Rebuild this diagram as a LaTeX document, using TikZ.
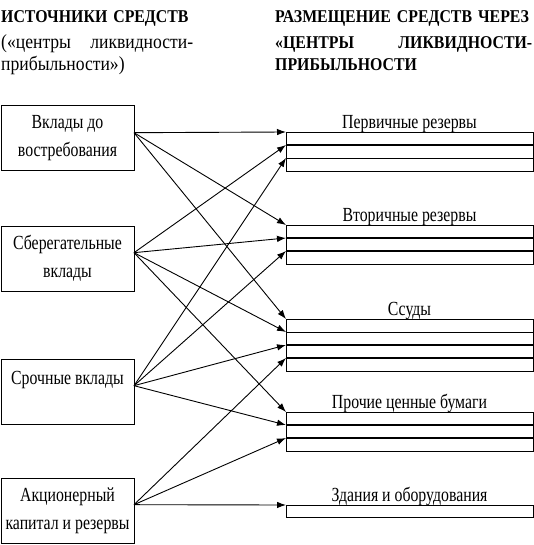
\documentclass[tikz,border=0pt]{standalone}
\usepackage{fontspec}
\setmainfont{Liberation Serif}
\newfontfamily\narrowfont[FakeStretch=0.79]{Liberation Serif}
\newfontfamily\headfont[FakeStretch=0.88]{Liberation Serif}
\usetikzlibrary{positioning, arrows.meta}
\tikzset{
  source/.style = {rectangle, draw, line width = 1pt, minimum width = 133pt, minimum height = 65pt,
                   inner sep = 0pt, outer sep = 0pt, align = center,
                   font = \narrowfont\fontsize{20}{28}\selectfont},
  stripe/.style = {rectangle, draw, line width = 0.8pt, minimum width = 247pt, minimum height = 13pt,
                   inner sep = 0pt, outer sep = 0pt},
  barlabel/.style = {inner sep = 0pt, font = \narrowfont\fontsize{20}{24}\selectfont},
  heading/.style = {anchor = north west, inner sep = 0pt, align = left,
                    font = \headfont\fontsize{18}{24}\selectfont},
  seam/.style = {line width = 2.2pt},
  link/.style = {line width = 0.9pt, -{Latex[length = 9pt, width = 6.5pt]}}
}
\begin{document}
\begin{tikzpicture}[x = 1pt, y = -1pt]
  \useasboundingbox (0,0) rectangle (534,545);

  \node [heading, text width = 192pt] (srchead) at (1,10)
        {{\bfseries ИСТОЧНИКИ СРЕДСТВ}\\[2pt]
         {\fontsize{20}{24}\selectfont («центры\hfill ликвидности-}\\[-2pt]
         {\fontsize{20}{24}\selectfont прибыльности»)}};
  \node [heading, text width = 257pt] (dsthead) at (275,10)
        {\bfseries РАЗМЕЩЕНИЕ СРЕДСТВ ЧЕРЕЗ\\[2pt]
         «ЦЕНТРЫ\hfill ЛИКВИДНОСТИ-\\[-2pt]
         ПРИБЫЛЬНОСТИ};

  \node [source] (dep) at (67.5,138.5) {Вклады до\\востребования};
  \node [source, below = 55pt of dep] (sav) {Сберегательные\\вклады};
  \node [source, below = 68pt of sav] (term) {Срочные вклады\\~};
  \node [source, below = 54pt of term] (eq) {Акционерный\\капитал и резервы};

  \node [stripe] (prim1) at (409.5,138.5) {};
  \node [stripe, below = 0pt of prim1] (prim2) {};
  \node [stripe, below = 0pt of prim2] (prim3) {};
  \node [barlabel, above = -1pt of prim1] (primlabel) {Первичные резервы};

  \node [stripe] (sec1) at (409.5,231.5) {};
  \node [stripe, below = 0pt of sec1] (sec2) {};
  \node [stripe, below = 0pt of sec2] (sec3) {};
  \node [barlabel, above = -1pt of sec1] (seclabel) {Вторичные резервы};

  \node [stripe] (loan1) at (409.5,325.5) {};
  \node [stripe, below = 0pt of loan1] (loan2) {};
  \node [stripe, below = 0pt of loan2] (loan3) {};
  \node [stripe, below = 0pt of loan3] (loan4) {};
  \node [barlabel, above = -1pt of loan1] (loanlabel) {Ссуды};

  \node [stripe] (oth1) at (409.5,418.5) {};
  \node [stripe, below = 0pt of oth1] (oth2) {};
  \node [stripe, below = 0pt of oth2] (oth3) {};
  \node [barlabel, above = -1pt of oth1] (othlabel) {Прочие ценные бумаги};

  \node [stripe, minimum height = 12pt] (bld1) at (409.5,511) {};
  \node [barlabel, above = -1pt of bld1] (bldlabel) {Здания и оборудования};

  \draw [seam] (prim2.north west) -- (prim2.north east);
  \draw [seam] (sec2.north west) -- (sec2.north east);
  \draw [seam] (sec3.north west) -- (sec3.north east);
  \draw [seam] (loan3.north west) -- (loan3.north east);
  \draw [seam] (loan4.north west) -- (loan4.north east);
  \draw [seam] (oth2.north west) -- (oth2.north east);
  \draw [seam] (oth3.north west) -- (oth3.north east);

  \path [link]
        (dep.5) edge (prim1.north west)
        (dep.5) edge (sec1.north west)
        (dep.5) edge (loan1.north west)
        (sav.5) edge (prim2.north west)
        (sav.5) edge (sec2.north west)
        (sav.5) edge (loan2.north west)
        (sav.5) edge (oth1.north west)
        (term.5) edge (prim3.north west)
        (term.5) edge (sec3.north west)
        (term.5) edge (loan3.north west)
        (term.5) edge (oth2.north west)
        (eq.5) edge (loan4.north west)
        (eq.5) edge (oth3.north west)
        (eq.5) edge (bld1.north west);
\end{tikzpicture}
\end{document}
